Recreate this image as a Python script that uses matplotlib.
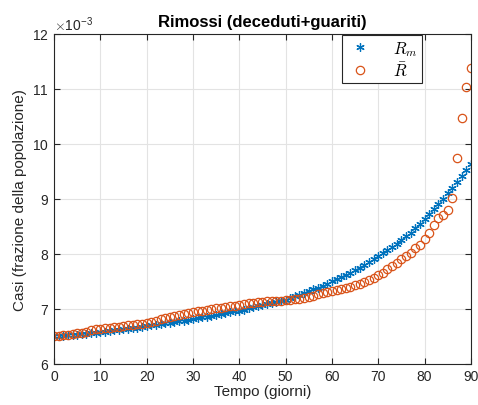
import numpy as np
import matplotlib.pyplot as plt
from matplotlib.ticker import ScalarFormatter

plt.rcParams['font.family'] = ['Liberation Sans', 'DejaVu Sans']
plt.rcParams['mathtext.fontset'] = 'cm'

days = np.arange(0, 91)

# removed fraction, model (R_m) - units of 1e-3
r_model = [6.50, 6.51, 6.51, 6.52, 6.53, 6.53, 6.54, 6.55, 6.56, 6.57, 6.58,
           6.59, 6.60, 6.61, 6.62, 6.63, 6.64, 6.65, 6.66, 6.67, 6.69,
           6.70, 6.71, 6.72, 6.74, 6.75, 6.76, 6.78, 6.79, 6.80, 6.82,
           6.83, 6.85, 6.86, 6.88, 6.89, 6.91, 6.92, 6.94, 6.96, 6.97,
           6.99, 7.01, 7.03, 7.05, 7.07, 7.09, 7.11, 7.13, 7.15, 7.17,
           7.20, 7.23, 7.26, 7.29, 7.32, 7.36, 7.39, 7.42, 7.46, 7.50,
           7.54, 7.58, 7.62, 7.66, 7.71, 7.75, 7.80, 7.85, 7.90, 7.96,
           8.01, 8.07, 8.13, 8.19, 8.26, 8.32, 8.39, 8.47, 8.55, 8.64,
           8.73, 8.82, 8.91, 9.00, 9.10, 9.20, 9.30, 9.41, 9.52, 9.64]

# removed fraction, data (R bar) - units of 1e-3
r_data = [6.50, 6.51, 6.52, 6.53, 6.55, 6.56, 6.57, 6.59, 6.61, 6.63, 6.64,
          6.65, 6.66, 6.67, 6.68, 6.69, 6.70, 6.71, 6.72, 6.73, 6.75,
          6.77, 6.79, 6.81, 6.83, 6.85, 6.87, 6.89, 6.91, 6.93, 6.94,
          6.96, 6.97, 6.99, 7.00, 7.01, 7.02, 7.04, 7.05, 7.06, 7.08,
          7.09, 7.10, 7.11, 7.12, 7.13, 7.14, 7.14, 7.15, 7.15, 7.16,
          7.17, 7.18, 7.19, 7.20, 7.21, 7.24, 7.27, 7.29, 7.31, 7.33,
          7.35, 7.36, 7.38, 7.40, 7.43, 7.46, 7.49, 7.53, 7.57, 7.61,
          7.66, 7.72, 7.78, 7.84, 7.91, 7.96, 8.02, 8.11, 8.17, 8.27,
          8.39, 8.53, 8.65, 8.70, 8.80, 9.02, 9.74, 10.47, 11.04, 11.38]

r_model = np.array(r_model) * 1e-3
r_data = np.array(r_data) * 1e-3

fig = plt.figure(figsize=(4.78, 4.06), dpi=100)
ax = fig.add_axes([0.113, 0.101, 0.872, 0.813])

ax.plot(days, r_model, linestyle='none', marker=(6, 2, 0), color='#0072BD',
        markersize=6, markeredgewidth=0.9, label='$R_m$')
ax.plot(days, r_data, 'o', color='#D95319', markerfacecolor='none',
        markersize=6, markeredgewidth=0.9, label=r'$\bar{R}$')

ax.set_xlim(0, 90)
ax.set_ylim(6e-3, 12e-3)
ax.set_xticks(np.arange(0, 91, 10))
ax.set_yticks(np.arange(6, 12.5, 1) * 1e-3)

fmt = ScalarFormatter(useMathText=True)
fmt.set_powerlimits((-3, -3))
ax.yaxis.set_major_formatter(fmt)
ax.yaxis.get_offset_text().set_fontsize(10)
ax.yaxis.get_offset_text().set_color('#262626')

ax.grid(True, color='#e3e3e3', linewidth=0.8)
ax.set_axisbelow(True)
ax.tick_params(direction='in', top=True, right=True, labelsize=10,
               color='#262626', labelcolor='#262626', length=4, width=0.8)
for s in ax.spines.values():
    s.set_color('#262626')
    s.set_linewidth(0.8)

ax.set_title('Rimossi (deceduti+guariti)', fontsize=12, fontweight='bold')
ax.set_xlabel('Tempo (giorni)', fontsize=11, labelpad=1, color='#262626')
ax.set_ylabel('Casi (frazione della popolazione)', fontsize=11, color='#262626')

leg = ax.legend(loc='upper right', bbox_to_anchor=(0.882, 0.997), fontsize=12,
                fancybox=False, framealpha=1, edgecolor='#262626',
                borderaxespad=0, handlelength=1.6, handletextpad=1.2,
                borderpad=0.25, labelspacing=0.15)
leg.get_frame().set_linewidth(0.8)

fig.savefig('out.png', dpi=100)
